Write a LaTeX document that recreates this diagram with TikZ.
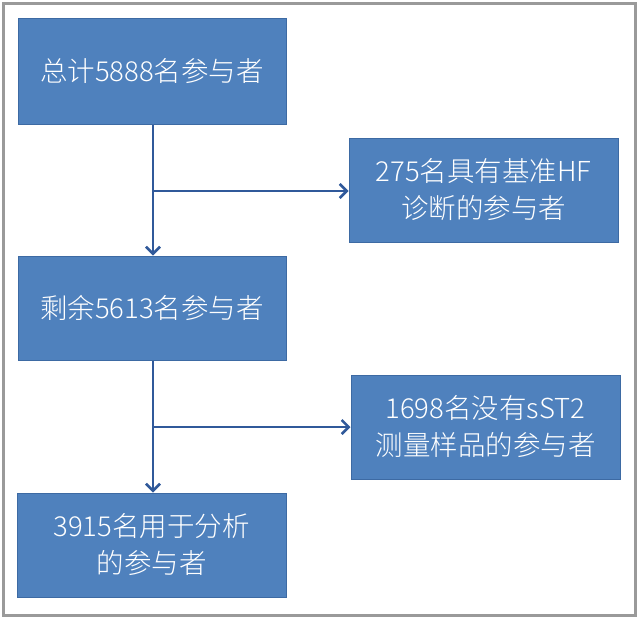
\documentclass[tikz,border=0pt]{standalone}
\usepackage{fontspec}
\setmainfont{Noto Sans CJK SC Light}
\newfontfamily\cjk{Noto Sans CJK SC Light}
\usetikzlibrary{arrows.meta}
\definecolor{boxblue}{HTML}{4F81BD}
\definecolor{boxedge}{HTML}{3D6AA3}
\definecolor{arrowblue}{HTML}{30599A}
\definecolor{framegray}{HTML}{9A9A9A}
\newcommand{\zh}[1]{{\cjk #1}}
\tikzset{
  flowbox/.style={draw=boxedge, line width=1pt, fill=boxblue, text=white, align=center,
    font=\fontsize{27.5}{37}\selectfont, inner sep=0pt},
  flowarrow/.style={draw=arrowblue, line width=2.5pt, -{Straight Barb[length=7pt,width=14pt,line width=2.5pt]}}
}
\begin{document}
\begin{tikzpicture}[x=1pt,y=-1pt]
\useasboundingbox (0,0) rectangle (640,621);
\draw[framegray, line width=3pt] (3.5,3.5) rectangle (635.5,615.5);
\node[flowbox, minimum width=268pt, minimum height=106pt] (b1) at (152,71) {\zh{总计}5888\zh{名参与者}};
\node[flowbox, minimum width=269pt, minimum height=104pt] (b2) at (483.5,190) {275\zh{名具有基准}HF\\\zh{诊断的参与者}};
\node[flowbox, minimum width=268pt, minimum height=104pt] (b3) at (152,308) {\zh{剩余}5613\zh{名参与者}};
\node[flowbox, minimum width=269pt, minimum height=104pt] (b4) at (485.5,427) {1698\zh{名没有}sST2\\\zh{测量样品的参与者}};
\node[flowbox, minimum width=269pt, minimum height=104pt] (b5) at (151.5,545) {3915\zh{名用于分析}\\\zh{的参与者}};
\coordinate (j1) at (153,191);
\coordinate (j2) at (153,427);
\draw[flowarrow] (b1.south -| j1) -- (b3.north -| j1);
\draw[flowarrow] (j1) -- (b2.west |- j1);
\draw[flowarrow] (b3.south -| j2) -- (b5.north -| j2);
\draw[flowarrow] (j2) -- (b4.west |- j2);
\end{tikzpicture}
\end{document}
